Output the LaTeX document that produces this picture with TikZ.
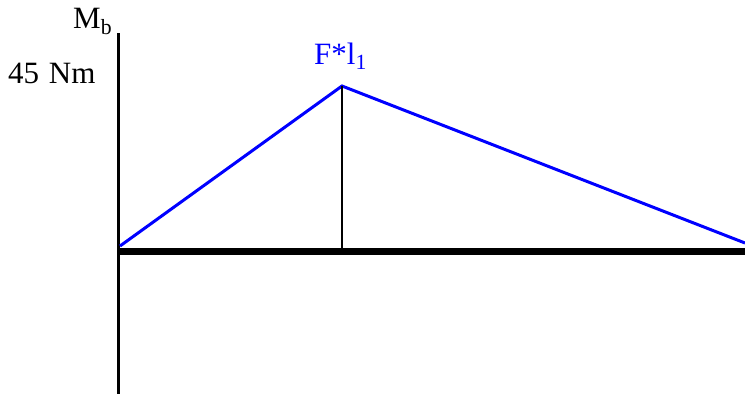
\documentclass[tikz,border=0pt]{standalone}
\usepackage{fontspec}
\setmainfont{Liberation Serif}
\begin{document}
\begin{tikzpicture}[x=1pt, y=-1pt,
    lbl/.style={anchor=base west, inner sep=0pt, font=\fontsize{31}{36}\selectfont}]
  \useasboundingbox (0,0) rectangle (745,394);

  % axes
  \coordinate (ytop) at (118.5,33);
  \coordinate (ybot) at (118.5,394);
  \coordinate (xleft) at (120,251);
  \coordinate (xright) at (745,251);
  \draw[line width=3pt] (ytop) -- (ybot);
  \draw[line width=7pt] (xleft) -- (xright);

  % bending moment curve
  \coordinate (start) at (120,246);
  \coordinate (peak) at (342,86);
  \coordinate (peakfoot) at (342,248);
  \coordinate (end) at (745,243);
  \draw[blue, line width=3pt, line join=miter] (start) -- (peak) -- (end);
  \draw[line width=1.5pt] (peak) -- (peakfoot);

  % labels
  \node[lbl] (mb) at (73,28) {M\textsubscript{b}};
  \node[lbl] (maxval) at (8,83) {45\hspace{2pt} Nm};
  \node[lbl, blue] (fl) at (314,64) {F*l\textsubscript{1}};

\end{tikzpicture}
\end{document}
